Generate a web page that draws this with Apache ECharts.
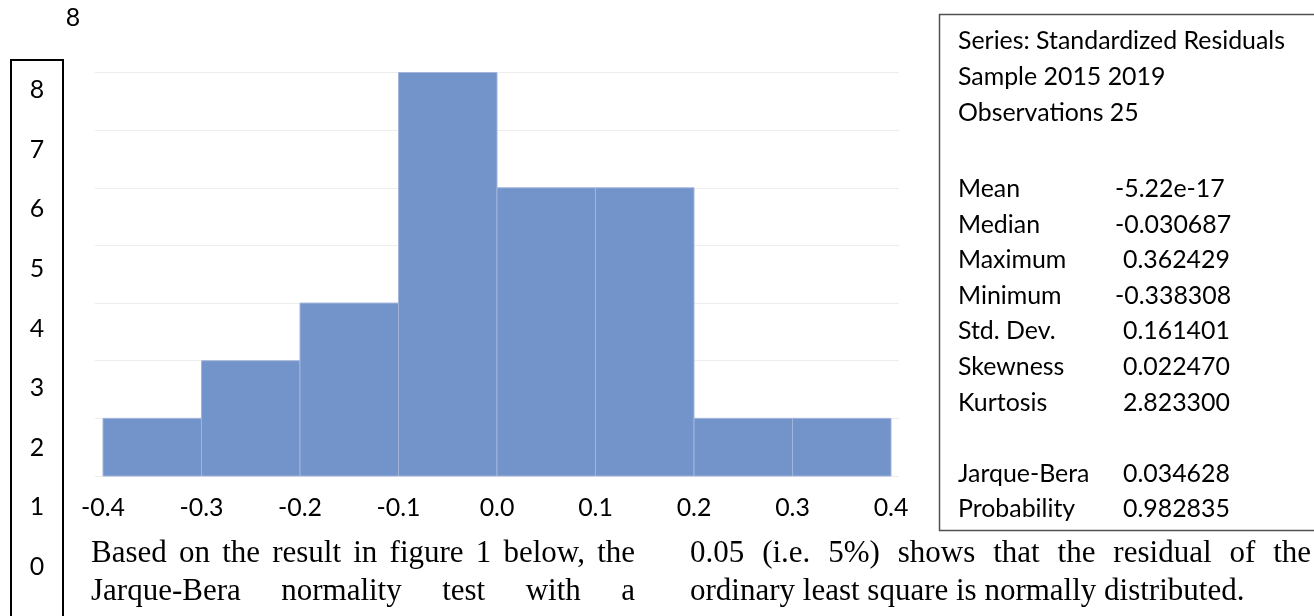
<!DOCTYPE html>
<html>
<head>
<meta charset="utf-8">
<script src="https://cdn.jsdelivr.net/npm/echarts@6/dist/echarts.min.js"></script>
<style>
html,body{margin:0;padding:0;background:#fff;}
#chart{width:1314px;height:616px;}
</style>
</head>
<body>
<div id="chart"></div>
<script>
// ---- data ----
const binLow  = [-0.4, -0.3, -0.2, -0.1, 0.0, 0.1, 0.2, 0.3];
const binHigh = [-0.3, -0.2, -0.1, 0.0, 0.1, 0.2, 0.3, 0.4];
const counts  = [1, 2, 3, 7, 5, 5, 1, 1];
const xTickLabels = ['-0.4', '-0.3', '-0.2', '-0.1', '0.0', '0.1', '0.2', '0.3', '0.4'];
const xTickValues = [-0.4, -0.3, -0.2, -0.1, 0.0, 0.1, 0.2, 0.3, 0.4];
const boxTickLabels = ['0', '1', '2', '3', '4', '5', '6', '7', '8'];
const strayLabel = '8';
const headerLines = ['Series: Standardized Residuals', 'Sample 2015 2019', 'Observations 25'];
const statNames  = ['Mean', 'Median', 'Maximum', 'Minimum', 'Std. Dev.', 'Skewness', 'Kurtosis', '', 'Jarque-Bera', 'Probability'];
const statValues = ['-5.22e-17', '-0.030687', '0.362429', '-0.338308', '0.161401', '0.022470', '2.823300', '', '0.034628', '0.982835'];
const paraLeft1  = 'Based on the result in figure 1 below, the';
const paraLeft2  = 'Jarque-Bera normality test with a';
const paraRight1 = '0.05 (i.e. 5%) shows that the residual of the';
const paraRight2 = 'ordinary least square is normally distributed.';

// ---- text helpers ----
const cv = document.createElement('canvas').getContext('2d');
function widthOf(text, font){ cv.font = font; return cv.measureText(text).width; }
function fitSize(text, family, target){ return 100 * target / widthOf(text, '100px ' + family); }

const sansFam = 'Lato';
const serifFam = '"Liberation Serif"';
const statSize = Math.round(fitSize(headerLines[0], sansFam, 327) * 10) / 10;
const axisSize = Math.round(fitSize('-0.4', sansFam, 44) * 10) / 10;
const statFont = statSize + 'px ' + sansFam;
const axisFont = axisSize + 'px ' + sansFam;
const serifFont = '31px ' + serifFam;

function T(x, y, text, font, align){
  return {type:'text', x:x, y:y, silent:true,
    style:{text:text, font:font, fill:'#000', align:align||'left', textAlign:align||'left',
      verticalAlign:'middle', textVerticalAlign:'middle'}};
}
function justified(text, x0, x1, y, font){
  const words = text.split(' ');
  const ws = words.map(w => widthOf(w, font));
  const total = ws.reduce((a,b)=>a+b,0);
  const gap = (x1 - x0 - total) / (words.length - 1);
  const out = []; let x = x0;
  words.forEach((w,i)=>{ out.push(T(x, y, w, font)); x += ws[i] + gap; });
  return out;
}

const graphics = [];
graphics.push(T(73, 18, strayLabel, axisFont, 'center'));
// left label box
graphics.push({type:'rect', silent:true, shape:{x:11, y:60, width:52, height:600},
  style:{fill:'none', stroke:'#000', lineWidth:2}});
// stats box
graphics.push({type:'rect', silent:true, shape:{x:939.5, y:14.5, width:420, height:516},
  style:{fill:'none', stroke:'#505050', lineWidth:1.5}});
const headerY = [41, 77, 113];
headerLines.forEach((t,i)=>graphics.push(T(958, headerY[i], t, statFont)));
const statY0 = 189, statStep = 35.6;
statNames.forEach((n,i)=>{
  if(!n) return;
  const y = statY0 + i*statStep;
  graphics.push(T(958, y, n, statFont));
  const v = statValues[i];
  graphics.push(T(v.charAt(0)==='-' ? 1115 : 1123, y, v, statFont));
});
// paragraph
justified(paraLeft1, 91, 635, 554, serifFont).forEach(g=>graphics.push(g));
justified(paraLeft2, 91, 635, 592, serifFont).forEach(g=>graphics.push(g));
justified(paraRight1, 690, 1311, 554, serifFont).forEach(g=>graphics.push(g));
graphics.push(T(690, 592, paraRight2, serifFont));

const chart = echarts.init(document.getElementById('chart'), null, {renderer:'canvas'});
chart.setOption({
  animation:false,
  backgroundColor:'#fff',
  grid:[
    {left:11, top:90, width:52, bottom:49},
    {left:95, right:415, top:72.5, bottom:140},
    {left:103, right:423, top:72.5, bottom:140}
  ],
  xAxis:[
    {gridIndex:0, type:'value', show:false, min:0, max:1},
    {gridIndex:1, type:'value', show:false, min:0, max:1},
    {gridIndex:2, type:'value', min:-0.4, max:0.4, interval:0.1,
      axisLine:{show:false}, axisTick:{show:false}, splitLine:{show:false},
      axisLabel:{margin:19, color:'#000', fontFamily:sansFam, fontSize:axisSize,
        formatter:function(v){
          const k = xTickValues.findIndex(t=>Math.abs(t-v)<1e-9);
          return k>=0 ? xTickLabels[k] : '';
        }}}
  ],
  yAxis:[
    {gridIndex:0, type:'value', min:0, max:8, interval:1,
      axisLine:{show:false}, axisTick:{show:false}, splitLine:{show:false},
      axisLabel:{inside:true, margin:26, align:'center', color:'#000', fontFamily:sansFam, fontSize:axisSize,
        formatter:function(v){
          const k = Math.round(v);
          return (Math.abs(v-k)<1e-9 && k>=0 && k<boxTickLabels.length) ? boxTickLabels[k] : '';
        }}},
    {gridIndex:1, type:'value', min:0, max:7, interval:1,
      axisLine:{show:false}, axisTick:{show:false}, axisLabel:{show:false},
      splitLine:{show:true, lineStyle:{color:'#EDEDED', width:1}}},
    {gridIndex:2, type:'value', min:0, max:7, show:false}
  ],
  series:[{
    type:'custom',
    xAxisIndex:2, yAxisIndex:2,
    data: binLow.map((lo,i)=>[lo, binHigh[i], counts[i]]),
    renderItem:function(params, api){
      const p0 = api.coord([api.value(0), api.value(2)]);
      const p1 = api.coord([api.value(1), 0]);
      return {type:'rect', shape:{x:p0[0], y:p0[1], width:p1[0]-p0[0], height:p1[1]-p0[1]},
        style:{fill:'#7394CA', stroke:'#A3B5DA', lineWidth:1}};
    },
    encode:{x:[0,1], y:2}
  }],
  graphic: graphics
});
</script>
</body>
</html>
